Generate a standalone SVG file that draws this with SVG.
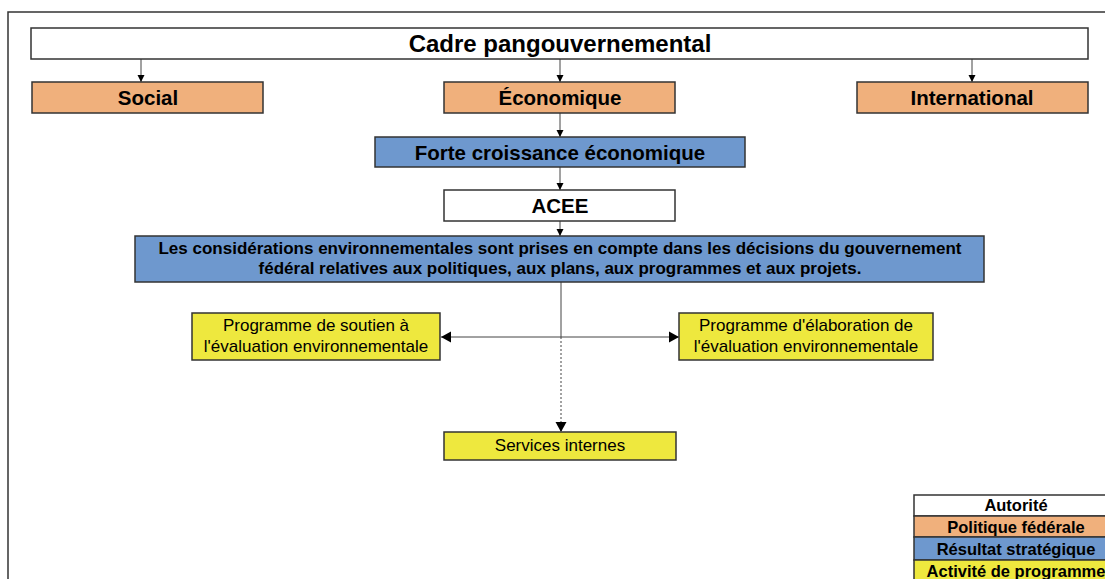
<svg xmlns="http://www.w3.org/2000/svg" width="1105" height="579" viewBox="0 0 1105 579">
<style>
.b{stroke:#333;stroke-width:1.5}
.w{fill:#fff}.o{fill:#F0B07C}.bl{fill:#6E98CE}.y{fill:#EEE83E}
text{font-family:"Liberation Sans",Arial,sans-serif;fill:#000;text-anchor:middle}
.t1{font-size:24px;font-weight:bold}
.t2{font-size:20.5px;font-weight:bold}
.t3{font-size:17px;font-weight:bold}
.t4{font-size:17px}
.lg{font-size:16.5px;font-weight:bold}
.c{stroke:#444;stroke-width:1;fill:none}
</style>
<defs>
<marker id="a" markerWidth="8" markerHeight="8" refX="7" refY="4" orient="auto" markerUnits="userSpaceOnUse"><path d="M0,0.5 L7,4 L0,7.5Z" fill="#000"/></marker>
<marker id="a2" markerWidth="11" markerHeight="12" refX="10" refY="6" orient="auto" markerUnits="userSpaceOnUse"><path d="M0,0.5 L10,6 L0,11.5Z" fill="#000"/></marker>
</defs>
<rect x="0" y="0" width="1105" height="579" fill="#fff"/>
<rect x="8" y="12" width="1110" height="580" fill="none" stroke="#333" stroke-width="1.5"/>
<g id="connectors">
<line class="c" x1="141" y1="59" x2="141" y2="82" marker-end="url(#a)"/>
<line class="c" x1="560" y1="59" x2="560" y2="82" marker-end="url(#a)"/>
<line class="c" x1="972" y1="59" x2="972" y2="82" marker-end="url(#a)"/>
<line class="c" x1="560" y1="113" x2="560" y2="137" marker-end="url(#a)"/>
<line class="c" x1="560" y1="167" x2="560" y2="190" marker-end="url(#a)"/>
<line class="c" x1="560" y1="221" x2="560" y2="236" marker-end="url(#a)"/>
<line class="c" x1="561" y1="282" x2="561" y2="337"/>
<line class="c" x1="561" y1="337" x2="561" y2="432" stroke-dasharray="2,2" marker-end="url(#a2)"/>
<line class="c" x1="561" y1="337" x2="441" y2="337" marker-end="url(#a2)"/>
<line class="c" x1="561" y1="337" x2="679" y2="337" marker-end="url(#a2)"/>
</g>
<g id="cadre"><rect class="b w" x="31" y="28" width="1057" height="31"/><text class="t1" x="560" y="51.5">Cadre pangouvernemental</text></g>
<g id="social"><rect class="b o" x="32" y="82" width="231" height="31"/><text class="t2" x="148" y="104.5">Social</text></g>
<g id="economique"><rect class="b o" x="444" y="82" width="231" height="31"/><text class="t2" x="560" y="104.5">Économique</text></g>
<g id="international"><rect class="b o" x="857" y="82" width="231" height="31"/><text class="t2" x="972" y="104.5">International</text></g>
<g id="forte"><rect class="b bl" x="375" y="137" width="370" height="30"/><text class="t2" x="560" y="159.5">Forte croissance économique</text></g>
<g id="acee"><rect class="b w" x="444" y="190" width="231" height="31"/><text class="t2" x="560" y="212.5">ACEE</text></g>
<g id="considerations"><rect class="b bl" x="135" y="236" width="849" height="46"/><text class="t3" x="560" y="254">Les considérations environnementales sont prises en compte dans les décisions du gouvernement</text><text class="t3" x="560" y="274">fédéral relatives aux politiques, aux plans, aux programmes et aux projets.</text></g>
<g id="soutien"><rect class="b y" x="192" y="313" width="248" height="47"/><text class="t4" x="316" y="331">Programme de soutien à</text><text class="t4" x="316" y="352">l'évaluation environnementale</text></g>
<g id="elaboration"><rect class="b y" x="679" y="313" width="254" height="47"/><text class="t4" x="806" y="331">Programme d'élaboration de</text><text class="t4" x="806" y="352">l'évaluation environnementale</text></g>
<g id="services"><rect class="b y" x="444" y="432" width="232" height="28"/><text class="t4" x="560" y="451">Services internes</text></g>
<g id="legend">
<rect class="b w" x="914" y="495" width="204" height="21"/><text class="lg" x="1016" y="511">Autorité</text>
<rect class="b o" x="914" y="516" width="204" height="21"/><text class="lg" x="1016" y="532.5">Politique fédérale</text>
<rect class="b bl" x="914" y="537" width="204" height="23"/><text class="lg" x="1016" y="554.5">Résultat stratégique</text>
<rect class="b y" x="914" y="560" width="204" height="23"/><text class="lg" x="1016" y="577">Activité de programme</text>
</g>
</svg>
